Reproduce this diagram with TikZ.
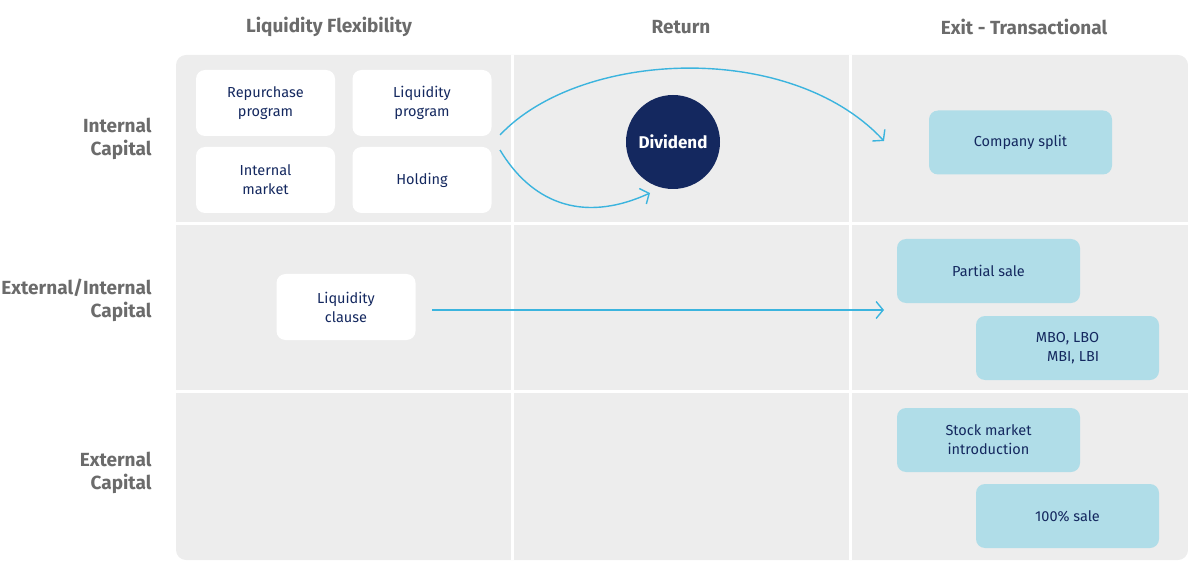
\documentclass[tikz,border=0pt]{standalone}
\usepackage{fontspec}
\setmainfont{Fira Sans}
\usetikzlibrary{arrows.meta}
\definecolor{panel}{HTML}{EDEDED}
\definecolor{navy}{HTML}{14285F}
\definecolor{lblue}{HTML}{B0DDE8}
\definecolor{cyan}{HTML}{3BB4DE}
\definecolor{hdr}{HTML}{6B6B6B}
\begin{document}
\begin{tikzpicture}[x=1pt,y=-1pt,
  hd/.style={font=\fontsize{19}{22}\selectfont\bfseries, text=hdr},
  rl/.style={font=\fontsize{19}{23}\selectfont\bfseries, text=hdr, align=right, anchor=east},
  wbox/.style={fill=white, rounded corners=9pt, minimum width=139pt, minimum height=66pt, align=center, text=navy, font=\fontsize{14.5}{19}\selectfont},
  bbox/.style={fill=lblue, rounded corners=9pt, minimum width=183pt, minimum height=64pt, align=center, text=navy, font=\fontsize{14.5}{19}\selectfont},
  arr/.style={cyan, line width=1.4pt, -{Straight Barb[length=7pt,width=17pt,line width=1.4pt]}}]
\useasboundingbox (0,0) rectangle (1188,569);
\fill[panel, rounded corners=10pt] (176,55) rectangle (1188,560);
\draw[white, line width=3pt] (512,55) -- (512,560) (850,55) -- (850,560) (176,224) -- (1188,224) (176,391) -- (1188,391);
\node[hd] (h1) at (329,27) {Liquidity Flexibility};
\node[hd] (h2) at (681,27) {Return};
\node[hd] (h3) at (1024,27) {Exit - Transactional};
\node[rl] (r1) at (155,139) {Internal\\Capital};
\node[rl] (r2) at (155,300) {External/Internal\\Capital};
\node[rl] (r3) at (155,473) {External\\Capital};
\node[wbox] (rep) at (265.5,103) {Repurchase\\program};
\node[wbox] (liq) at (422,103) {Liquidity\\program};
\node[wbox] (im) at (265.5,180) {Internal\\market};
\node[wbox] (hol) at (422,180) {Holding};
\node[wbox] (cla) at (346,307) {Liquidity\\clause};
\node[circle, fill=navy, minimum size=94pt, text=white, font=\fontsize{17}{19}\selectfont\bfseries] (div) at (673,142) {Dividend};
\node[bbox] (cs) at (1020.5,142.5) {Company split};
\node[bbox] (ps) at (988.5,271) {Partial sale};
\node[bbox, align=right] (mbo) at (1067.5,348) {MBO, LBO\\MBI, LBI};
\node[bbox] (sm) at (988.5,440) {Stock market\\introduction};
\node[bbox] (all) at (1067.5,516) {100\% sale};
\coordinate (a1s) at (500,135);
\coordinate (a1e) at (884,141);
\coordinate (a2s) at (500,150);
\coordinate (a2e) at (650,193);
\coordinate (a3s) at (432,310);
\coordinate (a3e) at (884,310);
\draw[arr] (a1s) .. controls (580,50) and (790,40) .. (a1e);
\draw[arr] (a2s) .. controls (530,200) and (580,225) .. (a2e);
\draw[arr] (a3s) -- (a3e);
\end{tikzpicture}
\end{document}
